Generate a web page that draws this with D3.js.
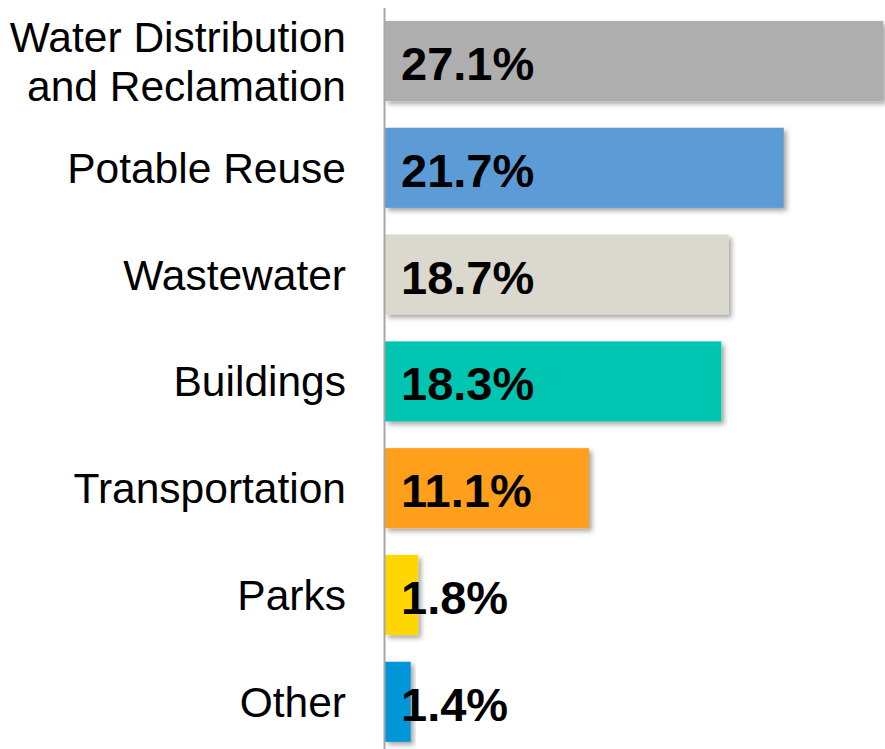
<!DOCTYPE html>
<html>
<head>
<meta charset="utf-8">
<script src="https://cdn.jsdelivr.net/npm/d3@7"></script>
<style>
  body { margin: 0; background: #fff; }
  svg { display: block; font-family: "Liberation Sans", Arial, sans-serif; }
</style>
</head>
<body>
<svg id="chart" width="885" height="749"></svg>
<script>
(function() {
    // chart data
    var categories = [["Water Distribution", "and Reclamation"], ["Potable Reuse"], ["Wastewater"],
                      ["Buildings"], ["Transportation"], ["Parks"], ["Other"]];
    var values = [27.1, 21.7, 18.7, 18.3, 11.1, 1.8, 1.4];
    var colors = ["#adaead", "#5b9bd5", "#dbd9cd", "#00c6b1", "#ff9f1c", "#ffd600", "#0096d8"];

    var svg = d3.select("#chart");
    var keys = d3.range(values.length);

    var x = d3.scaleLinear().domain([0, d3.max(values)]).range([385, 883]);
    var y = d3.scaleBand().domain(keys).range([7.6, 755.2])
        .paddingInner(0.25).paddingOuter(0.125);

    // soft drop shadow under bars
    var f = svg.append("defs").append("filter").attr("id", "shadow")
        .attr("x", "-10%").attr("y", "-10%").attr("width", "130%").attr("height", "130%");
    f.append("feDropShadow").attr("dx", 3).attr("dy", 3).attr("stdDeviation", 2.5)
        .attr("flood-color", "#000").attr("flood-opacity", 0.35);

    svg.append("g").selectAll("rect")
        .data(keys)
        .join("rect")
            .attr("x", x(0))
            .attr("y", function(d) { return y(d); })
            .attr("width", function(d) { return x(values[d]) - x(0); })
            .attr("height", y.bandwidth())
            .attr("fill", function(d) { return colors[d]; })
            .attr("filter", "url(#shadow)");

    // axis line
    svg.append("line")
        .attr("x1", 384.5).attr("x2", 384.5)
        .attr("y1", 8).attr("y2", 749)
        .attr("stroke", "#a6a6a6").attr("stroke-width", 2);

    // category labels
    svg.append("g").selectAll("text")
        .data(keys)
        .join("text")
            .attr("text-anchor", "end")
            .attr("font-size", 42.5)
            .attr("fill", "#000")
            .each(function(d) {
                var lines = categories[d];
                var cy = y(d) + y.bandwidth() / 2;
                d3.select(this).selectAll("tspan")
                    .data(lines)
                    .join("tspan")
                        .attr("x", 346)
                        .attr("y", function(t, i) { return cy + 15 + (i - (lines.length - 1) / 2) * 49; })
                        .text(function(t) { return t; });
            });

    // value labels
    svg.append("g").selectAll("text")
        .data(keys)
        .join("text")
            .attr("x", x(0) + 16)
            .attr("y", function(d) { return y(d) + y.bandwidth() / 2 + 19; })
            .attr("font-size", 47)
            .attr("font-weight", "bold")
            .attr("fill", "#000")
            .text(function(d) { return values[d].toFixed(1) + "%"; });
})();
</script>
</body>
</html>
